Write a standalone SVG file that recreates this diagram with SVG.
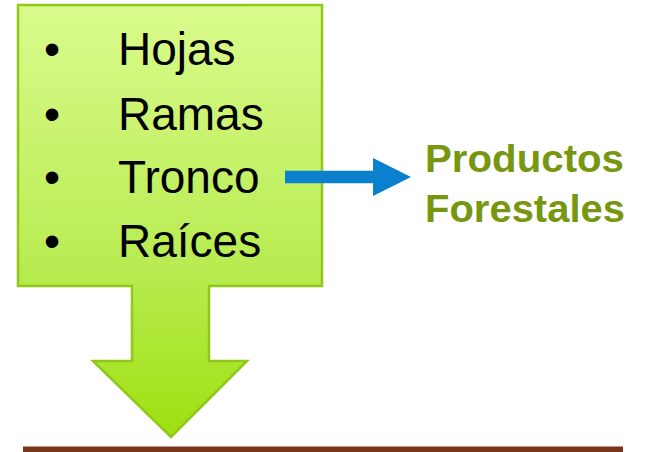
<svg xmlns="http://www.w3.org/2000/svg" width="646" height="452" viewBox="0 0 646 452">
  <style>
    .item { font-family: "Liberation Sans", Arial, sans-serif; font-size: 46px; fill: #000; }
    .bullet { font-family: "Liberation Sans", Arial, sans-serif; font-size: 46px; fill: #000; text-anchor: middle; }
    .label { font-family: "Liberation Sans", Arial, sans-serif; font-size: 38px; font-weight: bold; fill: #76970F; }
  </style>
  <defs>
    <linearGradient id="lime" gradientUnits="userSpaceOnUse" x1="0" y1="5" x2="0" y2="437">
      <stop offset="0" stop-color="#DAFB8C"/>
      <stop offset="0.6" stop-color="#B8EC52"/>
      <stop offset="1" stop-color="#9EE010"/>
    </linearGradient>
    <marker id="blueHead" markerWidth="38" markerHeight="38" refX="0" refY="19" orient="auto" markerUnits="userSpaceOnUse">
      <path d="M0,0 L38,19 L0,38 Z" fill="#0B80CC"/>
    </marker>
  </defs>
  <rect x="23" y="446.5" width="600" height="5.5" fill="#77361A"/>
  <g id="parts">
    <path d="M18,5 H322 V286 H209 V361 H247 L171,437 L93,361 H132 V286 H18 Z" fill="url(#lime)" stroke="#90C81A" stroke-width="2.5" stroke-linejoin="miter"/>
    <text class="bullet" x="52" y="65">•</text>
    <text class="item" x="118" y="65">Hojas</text>
    <text class="bullet" x="52" y="130">•</text>
    <text class="item" x="118" y="130">Ramas</text>
    <text class="bullet" x="52" y="193">•</text>
    <text class="item" x="118" y="193">Tronco</text>
    <text class="bullet" x="52" y="257">•</text>
    <text class="item" x="118" y="257">Raíces</text>
  </g>
  <g id="connectors">
    <line x1="285" y1="177" x2="373" y2="177" stroke="#0B80CC" stroke-width="12.5" marker-end="url(#blueHead)"/>
  </g>
  <g id="productos">
    <text class="label" x="425" y="172" textLength="199" lengthAdjust="spacingAndGlyphs">Productos</text>
    <text class="label" x="425" y="222" textLength="200" lengthAdjust="spacingAndGlyphs">Forestales</text>
  </g>
</svg>
